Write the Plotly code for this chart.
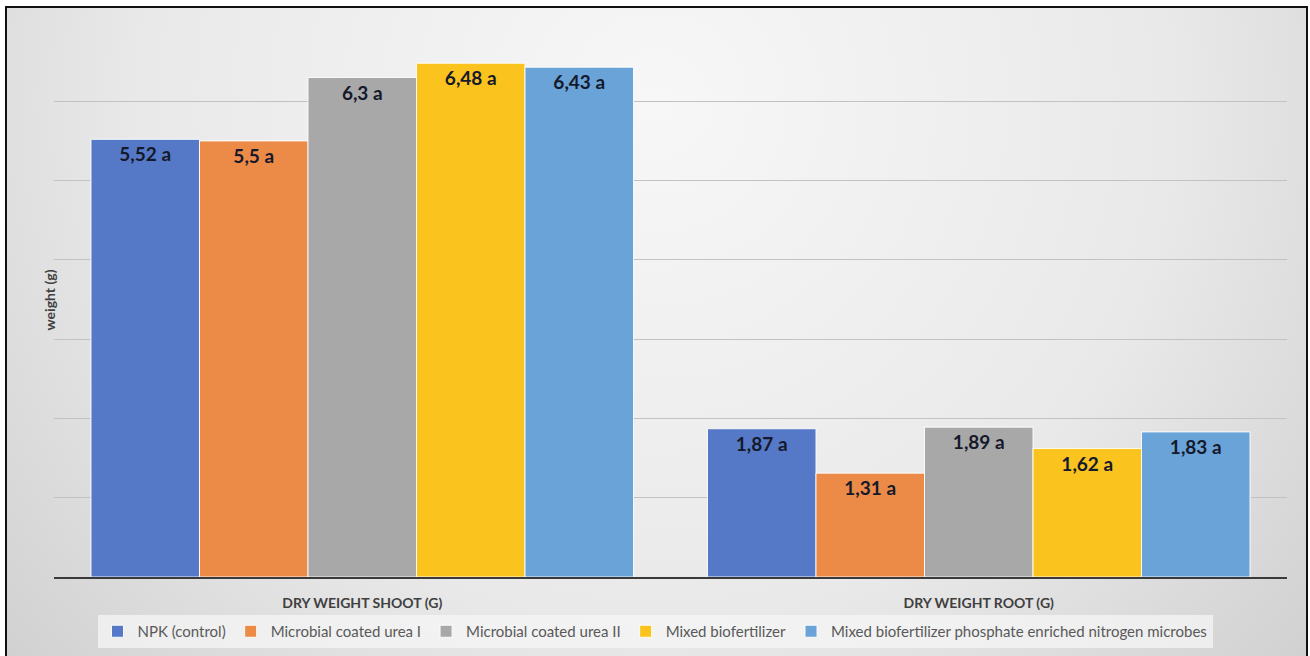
import base64
import plotly.graph_objects as go

categories = ["DRY WEIGHT SHOOT (G)", "DRY WEIGHT ROOT (G)"]
series_names = [
    "NPK (control)",
    "Microbial coated urea I",
    "Microbial coated urea II",
    "Mixed biofertilizer",
    "Mixed biofertilizer phosphate enriched nitrogen microbes",
]
npk = [5.52, 1.87]
mcu1 = [5.5, 1.31]
mcu2 = [6.3, 1.89]
mixed = [6.48, 1.62]
mixed_pen = [6.43, 1.83]
letters_npk = ["a", "a"]
letters_mcu1 = ["a", "a"]
letters_mcu2 = ["a", "a"]
letters_mixed = ["a", "a"]
letters_pen = ["a", "a"]

values = [npk, mcu1, mcu2, mixed, mixed_pen]
letters = [letters_npk, letters_mcu1, letters_mcu2, letters_mixed, letters_pen]
colors = ["#5579C6", "#EC8A48", "#A8A8A8", "#FBC31D", "#6AA3D8"]

W, H = 1310, 656
FONT = "Lato, Open Sans, sans-serif"

def fmt(v):
    return ("%g" % v).replace(".", ",")

fig = go.Figure()
for name, vals, lets, col in zip(series_names, values, letters, colors):
    fig.add_trace(go.Bar(
        name=name,
        x=categories,
        y=vals,
        marker=dict(color=col, line=dict(color="rgba(255,255,255,0.9)", width=1)),
        text=[f"<b>{fmt(v)} {l}</b>" for v, l in zip(vals, lets)],
        textposition="inside",
        insidetextanchor="end",
        textangle=0,
        textfont=dict(family=FONT, size=19, color="#14192b"),
        constraintext="none",
    ))

# background gradient as an inline SVG
svg = f'''<svg xmlns="http://www.w3.org/2000/svg" width="{W}" height="{H}" viewBox="0 0 {W} {H}" preserveAspectRatio="none">
<defs><radialGradient id="g" cx="0.5" cy="0.15" r="0.72" gradientTransform="translate(0.5,0.15) scale(1,2) translate(-0.5,-0.15)">
<stop offset="0" stop-color="#f7f7f7"/><stop offset="0.55" stop-color="#e9e9e9"/><stop offset="1" stop-color="#cbcbcb"/>
</radialGradient></defs>
<rect x="0" y="0" width="{W}" height="{H}" fill="url(#g)"/></svg>'''
src = "data:image/svg+xml;base64," + base64.b64encode(svg.encode()).decode()

x0, x1 = 6 / W, 1307 / W
y0, y1 = 1 - 656 / H, 1 - 7 / H
fig.add_layout_image(dict(source=src, xref="paper", yref="paper", x=x0, y=y1,
                          sizex=x1 - x0, sizey=y1 - y0, sizing="stretch",
                          layer="below", xanchor="left", yanchor="top"))
fig.add_shape(type="rect", xref="paper", yref="paper", x0=x0, x1=x1, y0=-0.01, y1=y1,
              line=dict(color="#111111", width=2), fillcolor="rgba(0,0,0,0)", layer="above")

fig.add_annotation(text="<b>weight (g)</b>", xref="paper", yref="paper",
                   x=38 / W, y=1 - 300 / H, textangle=-90, showarrow=False,
                   font=dict(family=FONT, size=14, color="#404040"))

fig.update_layout(
    width=W, height=H,
    margin=dict(l=0, r=0, t=0, b=0),
    paper_bgcolor="white",
    plot_bgcolor="rgba(0,0,0,0)",
    barmode="group",
    bargap=0.12,
    bargroupgap=0.0,
    showlegend=True,
    legend=dict(orientation="h", x=0.5, xanchor="center", y=1 - 615 / H, yanchor="top",
                bgcolor="rgba(246,246,246,0.75)",
                font=dict(family=FONT, size=15, color="#595959"),
                itemwidth=30, tracegroupgap=0),
    font=dict(family=FONT),
    xaxis=dict(domain=[54 / W, 1287 / W], showline=True, linecolor="#3a3a3a", linewidth=2,
               tickfont=dict(family=FONT, size=14, color="#404040"),
               ticks="", tickprefix="<b>", ticksuffix="</b>", ticklabelstandoff=12,
               fixedrange=True),
    yaxis=dict(domain=[1 - 577 / H, 1 - 22 / H], range=[0, 7], dtick=1,
               showticklabels=False, showgrid=True, gridcolor="#c2c2c2", gridwidth=1,
               zeroline=False, ticks=""),
)

fig.write_html("out.html")
